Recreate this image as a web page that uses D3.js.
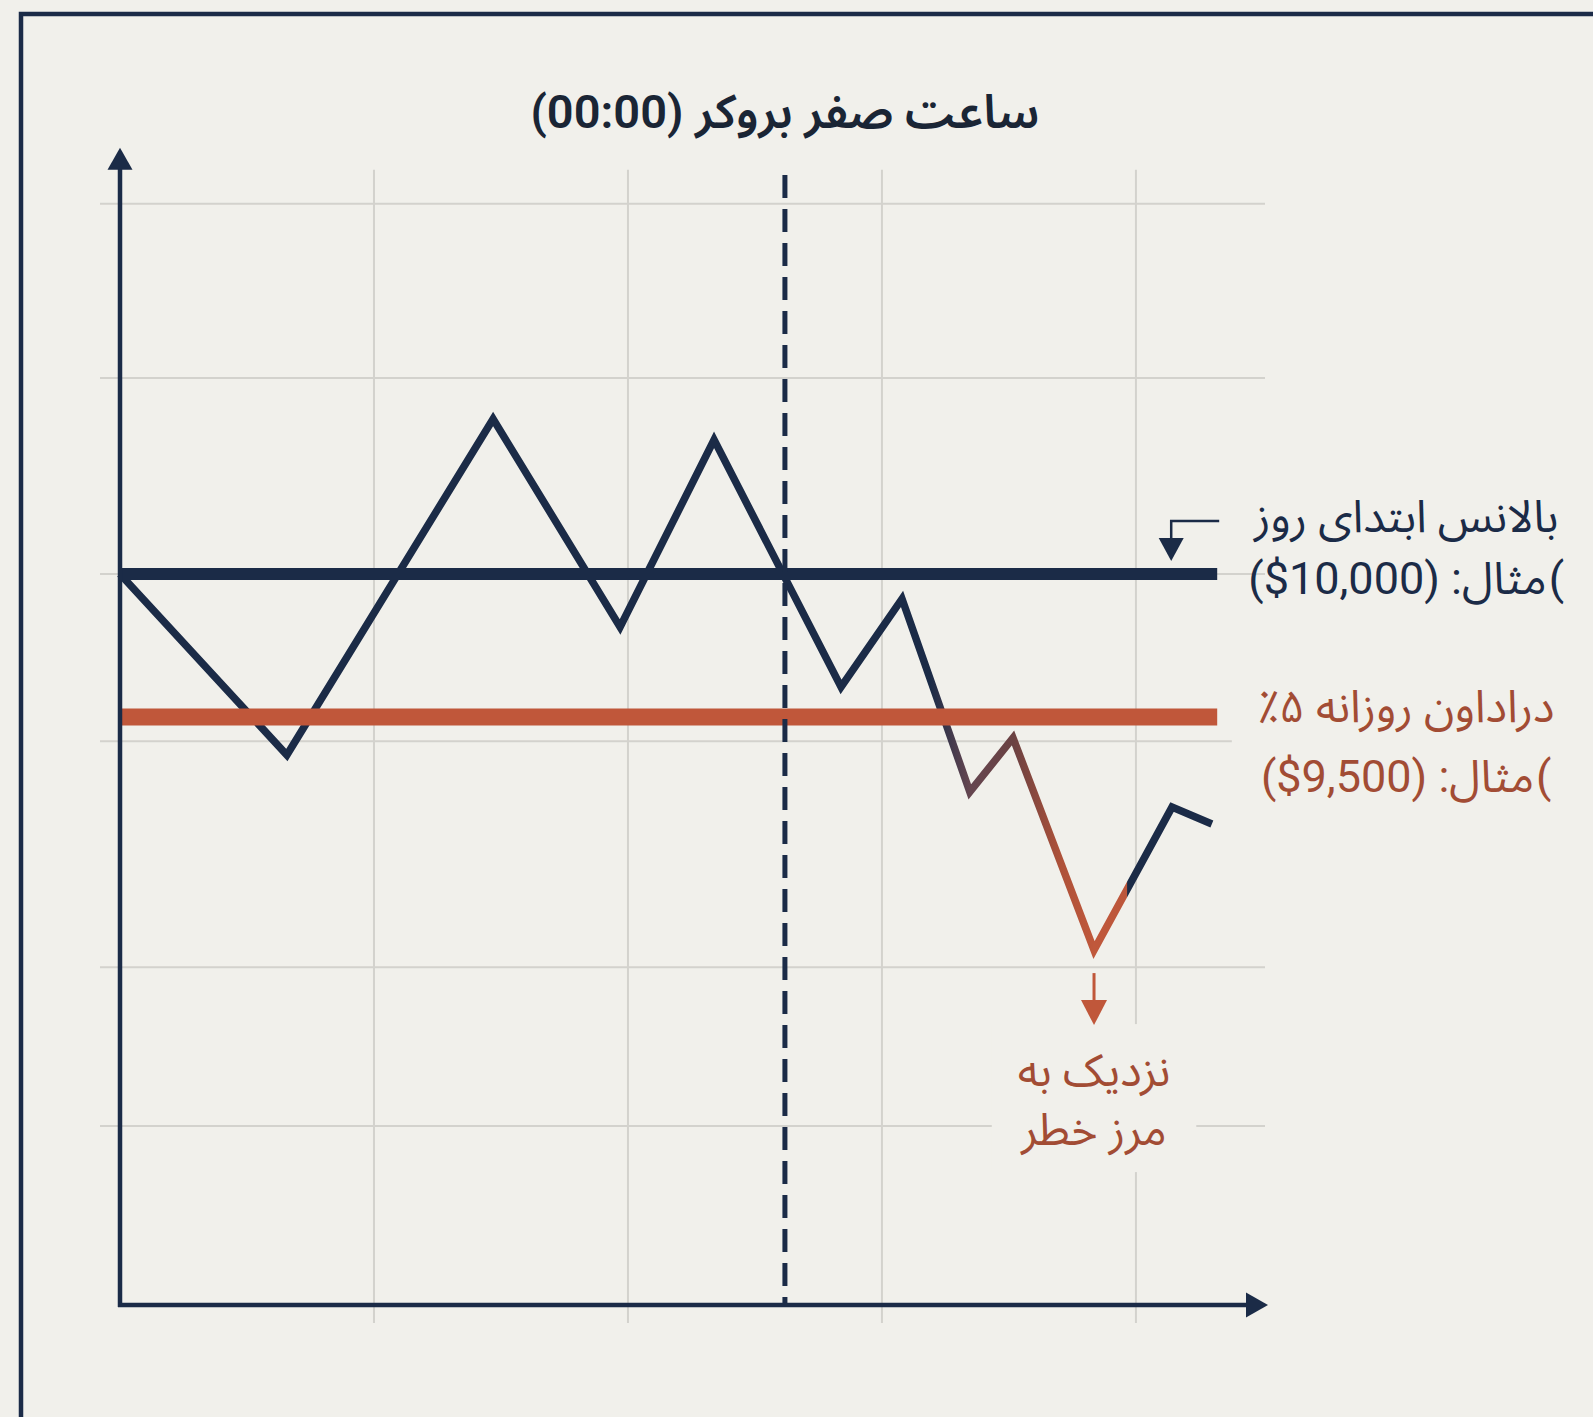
<!DOCTYPE html>
<html>
<head>
<meta charset="utf-8">
<script src="https://cdn.jsdelivr.net/npm/d3@7"></script>
<style>
  html, body { margin: 0; padding: 0; background: #f1f0eb; }
  svg { display: block; }
</style>
</head>
<body>
<svg id="chart" width="1593" height="1417"></svg>
<script>
// ---------- DATA ----------
const gridX = [1, 2, 3, 4];                               // vertical grid (time units)
const gridY = [11295, 10685, 10000, 9415, 8625, 8070];    // horizontal grid (balance $)
const seriesX = [0, 0.657, 1.469, 1.969, 2.339, 2.839, 3.079, 3.346, 3.516, 3.835, 4.142, 4.299];
const seriesY = [10000, 9367, 10542, 9815, 10469, 9605, 9913, 9238, 9427, 8685, 9185, 9126];
const startBalance = 10000;
const drawdownLimit = 9500;
const brokerMidnight = 2.618;
const xDomain = [0, 4.52];
const yDomain = [7444, 11490];
const titleText = "ساعت صفر بروکر (00:00)";
const startLabel = ["بالانس ابتدای روز", "مثال: \u2066($10,000)\u2069"];
const ddLabel = ["دراداون روزانه \u2066٪۵\u2069", "مثال: \u2066($9,500)\u2069"];
const dangerLabel = ["نزدیک به", "مرز خطر"];
const outerParen = "(";

// ---------- STYLE ----------
const NAVY = "#1b2b47";
const RUST = "#c0573a";
const RUST_TEXT = "#a24c34";
const GRID = "#d3d2cd";
const BG = "#f1f0eb";
const FONT = "Roboto, 'Noto Sans Arabic', Vazirmatn, 'DejaVu Sans', sans-serif";

const svg = d3.select("#chart");
svg.append("rect").attr("width", 1593).attr("height", 1417).attr("fill", BG);

const x = d3.scaleLinear().domain(xDomain).range([120, 1268]);
const y = d3.scaleLinear().domain([drawdownLimit, startBalance]).range([717, 574]);

const x0 = x(xDomain[0]), x1 = x(xDomain[1]);
const yTop = y(yDomain[1]), yBot = y(yDomain[0]);
const lineEnd = x(4.32);

// frame
svg.append("rect").attr("x", 21).attr("y", 14).attr("width", 1650).attr("height", 1500)
  .attr("fill", "none").attr("stroke", NAVY).attr("stroke-width", 4.5);

// grid
const grid = svg.append("g");
grid.selectAll("line.gx").data(gridX).join("line")
  .attr("x1", d => x(d)).attr("x2", d => x(d))
  .attr("y1", yTop + 22).attr("y2", yBot + 18)
  .attr("stroke", GRID).attr("stroke-width", 2);
grid.selectAll("line.gy").data(gridY).join("line")
  .attr("x1", x0 - 20).attr("x2", x1 - 3)
  .attr("y1", d => y(d)).attr("y2", d => y(d))
  .attr("stroke", GRID).attr("stroke-width", 2);

const knock = svg.append("g");

// series with gradient
const defs = svg.append("defs");
const grad = defs.append("linearGradient").attr("id", "lineGrad")
  .attr("gradientUnits", "userSpaceOnUse")
  .attr("x1", x(0)).attr("x2", x(xDomain[1])).attr("y1", 0).attr("y2", 0);
const span = x(xDomain[1]) - x(0);
const stops = [
  [3.19, NAVY], [3.346, "#654650"], [3.516, "#6a4142"], [3.70, "#ad5139"],
  [3.835, "#c0583b"], [3.965, "#bc563b"], [3.967, NAVY], [4.52, NAVY]
];
grad.selectAll("stop").data(stops).join("stop")
  .attr("offset", d => (x(d[0]) - x(0)) / span)
  .attr("stop-color", d => d[1]);

const pts = seriesX.map((v, i) => [v, seriesY[i]]);
svg.append("path")
  .attr("d", d3.line().x(d => x(d[0])).y(d => y(d[1]))(pts))
  .attr("fill", "none").attr("stroke", "url(#lineGrad)")
  .attr("stroke-width", 7.5).attr("stroke-linejoin", "miter").attr("stroke-linecap", "butt");

// threshold lines
svg.append("line").attr("x1", x0).attr("x2", lineEnd)
  .attr("y1", y(drawdownLimit)).attr("y2", y(drawdownLimit))
  .attr("stroke", RUST).attr("stroke-width", 17);
svg.append("line").attr("x1", x0).attr("x2", lineEnd)
  .attr("y1", y(startBalance)).attr("y2", y(startBalance))
  .attr("stroke", NAVY).attr("stroke-width", 12);

// dashed midnight line
svg.append("line").attr("x1", x(brokerMidnight)).attr("x2", x(brokerMidnight))
  .attr("y1", 175).attr("y2", yBot)
  .attr("stroke", NAVY).attr("stroke-width", 5).attr("stroke-dasharray", "23 11");

// axes with arrowheads
svg.append("line").attr("x1", x0).attr("x2", x0).attr("y1", yBot + 2).attr("y2", yTop + 18)
  .attr("stroke", NAVY).attr("stroke-width", 4.5);
svg.append("path").attr("d", `M${x0},${yTop} L${x0 - 12.5},${yTop + 22} L${x0 + 12.5},${yTop + 22} Z`)
  .attr("fill", NAVY);
svg.append("line").attr("x1", x0 - 2).attr("x2", x1 - 18).attr("y1", yBot).attr("y2", yBot)
  .attr("stroke", NAVY).attr("stroke-width", 4.5);
svg.append("path").attr("d", `M${x1},${yBot} L${x1 - 22},${yBot - 12.5} L${x1 - 22},${yBot + 12.5} Z`)
  .attr("fill", NAVY);

// title
svg.append("text").attr("x", x(brokerMidnight)).attr("y", 128)
  .attr("direction", "rtl").attr("text-anchor", "middle")
  .attr("font-family", FONT).attr("font-size", 47).attr("font-weight", 600)
  .attr("fill", "#1a2535").text(titleText);

// labels
function label(lines, cx, baselines, color, size, paren) {
  const g = svg.append("g");
  lines.forEach((t, i) => {
    const tx = g.append("text").attr("x", cx).attr("y", baselines[i])
      .attr("direction", "rtl").attr("text-anchor", "middle")
      .attr("font-family", FONT).attr("font-size", size)
      .attr("fill", color).text(t);
    if (paren && i === 1) {
      const p = g.append("text").attr("y", baselines[i])
        .attr("direction", "ltr").attr("text-anchor", "start")
        .attr("font-family", FONT).attr("font-size", size)
        .attr("fill", color).text(paren);
      const w = tx.node().getComputedTextLength();
      const pw = p.node().getComputedTextLength();
      const gap = 2;
      const total = w + gap + pw;
      tx.attr("x", cx - (pw + gap) / 2);
      p.attr("x", cx + total / 2 - pw);
    }
  });
  return g;
}
const labelX = lineEnd + 189;
const gStart = label(startLabel, labelX, [y(startBalance) - 42, y(startBalance) + 20], NAVY, 45, outerParen);
const gDD = label(ddLabel, labelX, [y(drawdownLimit) + 5, y(drawdownLimit) + 75], RUST_TEXT, 45, outerParen);
const lowX = x(seriesX[9]), lowY = y(seriesY[9]);
const gDanger = label(dangerLabel, lowX, [lowY + 136, lowY + 195], RUST_TEXT, 45);

// knock out grid behind labels
[gDD, gDanger].forEach(g => {
  const b = g.node().getBBox();
  knock.append("rect").attr("x", b.x - 26).attr("y", b.y - 20)
    .attr("width", b.width + 52).attr("height", b.height + 36).attr("fill", BG);
});

// annotation arrow for start balance
const ay = y(startBalance);
const ax = lineEnd - 46;
svg.append("path").attr("d", `M${lineEnd + 2},${ay - 53} L${ax},${ay - 53} L${ax},${ay - 34}`)
  .attr("fill", "none").attr("stroke", NAVY).attr("stroke-width", 2.5);
svg.append("path").attr("d", `M${ax - 12.5},${ay - 36} L${ax + 12.5},${ay - 36} L${ax},${ay - 13} Z`)
  .attr("fill", NAVY);

// danger arrow
svg.append("line").attr("x1", lowX).attr("x2", lowX).attr("y1", lowY + 23).attr("y2", lowY + 55)
  .attr("stroke", RUST).attr("stroke-width", 3);
svg.append("path").attr("d", `M${lowX - 13},${lowY + 50} L${lowX + 13},${lowY + 50} L${lowX},${lowY + 75} Z`)
  .attr("fill", RUST);
</script>
</body>
</html>
